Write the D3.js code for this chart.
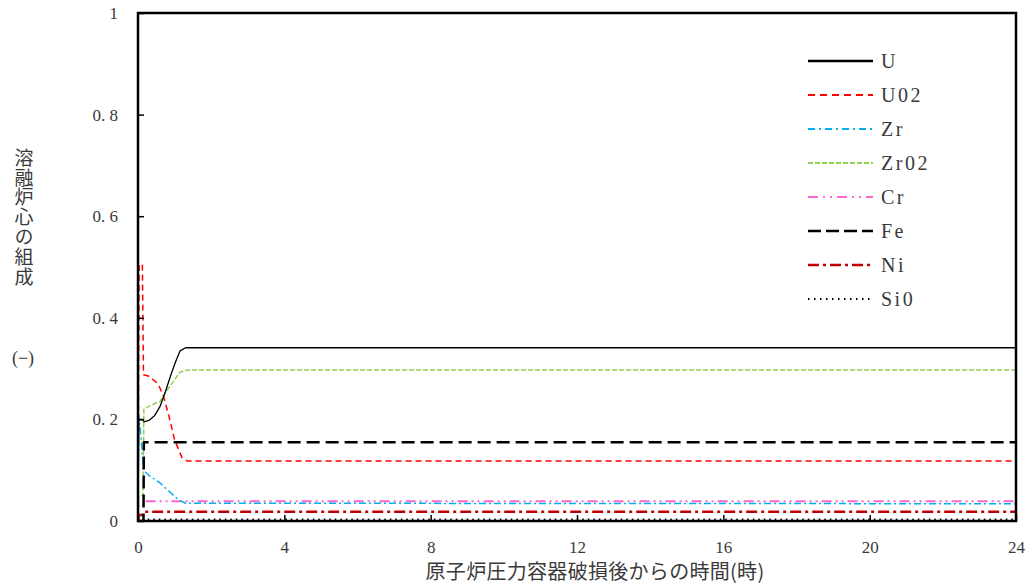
<!DOCTYPE html>
<html>
<head>
<meta charset="utf-8">
<script src="https://cdn.jsdelivr.net/npm/d3@7"></script>
<style>
  html, body { margin: 0; padding: 0; background: #fff; }
  svg { display: block; }
  .num { font-family: "Liberation Serif", "DejaVu Serif", serif; fill: #3a3a3a; }
  .jp { font-family: "Noto Sans CJK JP", sans-serif; fill: #3a3a3a; }
</style>
</head>
<body>
<svg id="chart" width="1031" height="585"></svg>
<script>
// Molten core composition after RPV failure, hours vs. mass fraction
const xTicks = [0, 4, 8, 12, 16, 20, 24];
const yTicks = [0, 0.2, 0.4, 0.6, 0.8, 1];
const yTickLabels = ["0", "0. 2", "0. 4", "0. 6", "0. 8", "1"];

const seriesNames = ["U", "U02", "Zr", "Zr02", "Cr", "Fe", "Ni", "Si0"];

// [hours, fraction]
const U = [[0, 0], [0.02, 0.2], [0.14, 0.2], [0.16, 0.195], [0.3, 0.198], [0.45, 0.207], [0.6, 0.225], [0.75, 0.255], [0.9, 0.288], [1.02, 0.312], [1.15, 0.335], [1.3, 0.341], [24, 0.341]];
const UO2 = [[0, 0], [0.03, 0.505], [0.12, 0.505], [0.15, 0.288], [0.3, 0.285], [0.55, 0.27], [0.7, 0.245], [0.85, 0.205], [1.0, 0.16], [1.2, 0.125], [1.35, 0.118], [24, 0.118]];
const Zr = [[0, 0], [0.02, 0.21], [0.1, 0.15], [0.15, 0.1], [0.3, 0.09], [0.6, 0.075], [0.9, 0.055], [1.1, 0.042], [1.3, 0.035], [24, 0.034]];
const ZrO2 = [[0, 0], [0.02, 0.05], [0.14, 0.05], [0.16, 0.22], [0.35, 0.228], [0.6, 0.235], [0.8, 0.258], [1.0, 0.278], [1.15, 0.293], [1.35, 0.297], [24, 0.297]];
const Cr = [[0, 0], [0.02, 0.03], [0.14, 0.03], [0.16, 0.039], [24, 0.039]];
const Fe = [[0, 0], [0.15, 0], [0.16, 0.155], [24, 0.155]];
const Ni = [[0, 0], [0.02, 0.012], [0.14, 0.012], [0.16, 0.018], [24, 0.018]];
const SiO = [[0, 0], [0.15, 0], [0.16, 0.003], [24, 0.003]];

const seriesData = [U, UO2, Zr, ZrO2, Cr, Fe, Ni, SiO];

const styles = [
  { color: "#000000", width: 1.3, dash: null, lw: 2.5, ldash: null },
  { color: "#ff0000", width: 1.5, dash: "6,4", lw: 2.2, ldash: "7,5" },
  { color: "#00b0f0", width: 1.5, dash: "7,3,2,3", lw: 2.2, ldash: "7,4,2,4" },
  { color: "#92d050", width: 1.5, dash: "5,2", lw: 2.2, ldash: "5,2" },
  { color: "#ff66cc", width: 2, dash: "10,4,2,4,2,4", lw: 2.2, ldash: "10,5,2,5,2,5" },
  { color: "#000000", width: 2.5, dash: "13,6", lw: 2.5, ldash: "13,5" },
  { color: "#c00000", width: 2.5, dash: "11,4,3,4", lw: 2.5, ldash: "11,4,3,4" },
  { color: "#000000", width: 2, dash: "1.5,4", lw: 1.8, ldash: "1.5,4.5" }
];

const svg = d3.select("#chart");
const mLeft = 138, mRight = 1016, mTop = 13, mBottom = 521;

const x = d3.scaleLinear().domain([0, 24]).range([mLeft, mRight]);
const y = d3.scaleLinear().domain([0, 1]).range([mBottom, mTop]);

// clip series to the plotting frame
svg.append("defs").append("clipPath").attr("id", "plotclip")
  .append("rect").attr("x", mLeft).attr("y", mTop).attr("width", mRight - mLeft).attr("height", mBottom - mTop);

const line = d3.line().x(d => x(d[0])).y(d => y(d[1]));

const plot = svg.append("g").attr("clip-path", "url(#plotclip)");
// draw order: lower series first so U stays on top
[7, 6, 4, 2, 3, 1, 5, 0].forEach(i => {
  plot.append("path")
    .attr("d", line(seriesData[i]))
    .attr("fill", "none")
    .attr("stroke", styles[i].color)
    .attr("stroke-width", styles[i].width)
    .attr("stroke-dasharray", styles[i].dash)
    .attr("stroke-linejoin", "round");
});

// axes with inward ticks
const yAxis = d3.axisLeft(y).tickValues(yTicks).tickSize(-6).tickFormat((d, i) => yTickLabels[i]).tickPadding(20);
const gy = svg.append("g").attr("transform", `translate(${mLeft},0)`).call(yAxis);
gy.select(".domain").remove();
gy.selectAll(".tick line").attr("stroke", "#000").attr("stroke-width", 1.5);
gy.selectAll(".tick text").attr("class", "num").style("font-size", "17px").attr("fill", null);

const xAxis = d3.axisBottom(x).tickValues(xTicks).tickSize(-6).tickFormat(d3.format("d")).tickPadding(20);
const gx = svg.append("g").attr("transform", `translate(0,${mBottom})`).call(xAxis);
gx.select(".domain").remove();
gx.selectAll(".tick line").attr("stroke", "#000").attr("stroke-width", 1.5);
gx.selectAll(".tick text").attr("class", "num").style("font-size", "17px").attr("fill", null);

// frame
svg.append("rect")
  .attr("x", mLeft).attr("y", mTop)
  .attr("width", mRight - mLeft).attr("height", mBottom - mTop)
  .attr("fill", "none").attr("stroke", "#000").attr("stroke-width", 2.5);

// x axis title
svg.append("text").attr("class", "jp")
  .attr("x", 595).attr("y", 579)
  .attr("text-anchor", "middle")
  .style("font-size", "20px")
  .style("letter-spacing", "0.3px")
  .text("原子炉圧力容器破損後からの時間(時)");

// y axis title, set in vertical writing mode
svg.append("text")
  .attr("class", "jp")
  .attr("x", 24).attr("y", 148)
  .style("writing-mode", "vertical-rl")
  .style("text-orientation", "upright")
  .style("font-size", "19px")
  .style("letter-spacing", "0.8px")
  .text("溶融炉心の組成");
svg.append("text").attr("class", "num")
  .attr("x", 23).attr("y", 364)
  .attr("text-anchor", "middle")
  .style("font-size", "18px")
  .text("(−)");

// legend
const lg = svg.append("g");
seriesNames.forEach((name, i) => {
  const ly = 61 + i * 34;
  lg.append("line")
    .attr("x1", 808).attr("x2", 873)
    .attr("y1", ly).attr("y2", ly)
    .attr("stroke", styles[i].color)
    .attr("stroke-width", styles[i].lw)
    .attr("stroke-dasharray", styles[i].ldash);
  lg.append("text").attr("class", "num")
    .attr("x", 881).attr("y", ly + 7)
    .style("font-size", "20px")
    .style("letter-spacing", "2.5px")
    .text(name);
});
</script>
</body>
</html>
